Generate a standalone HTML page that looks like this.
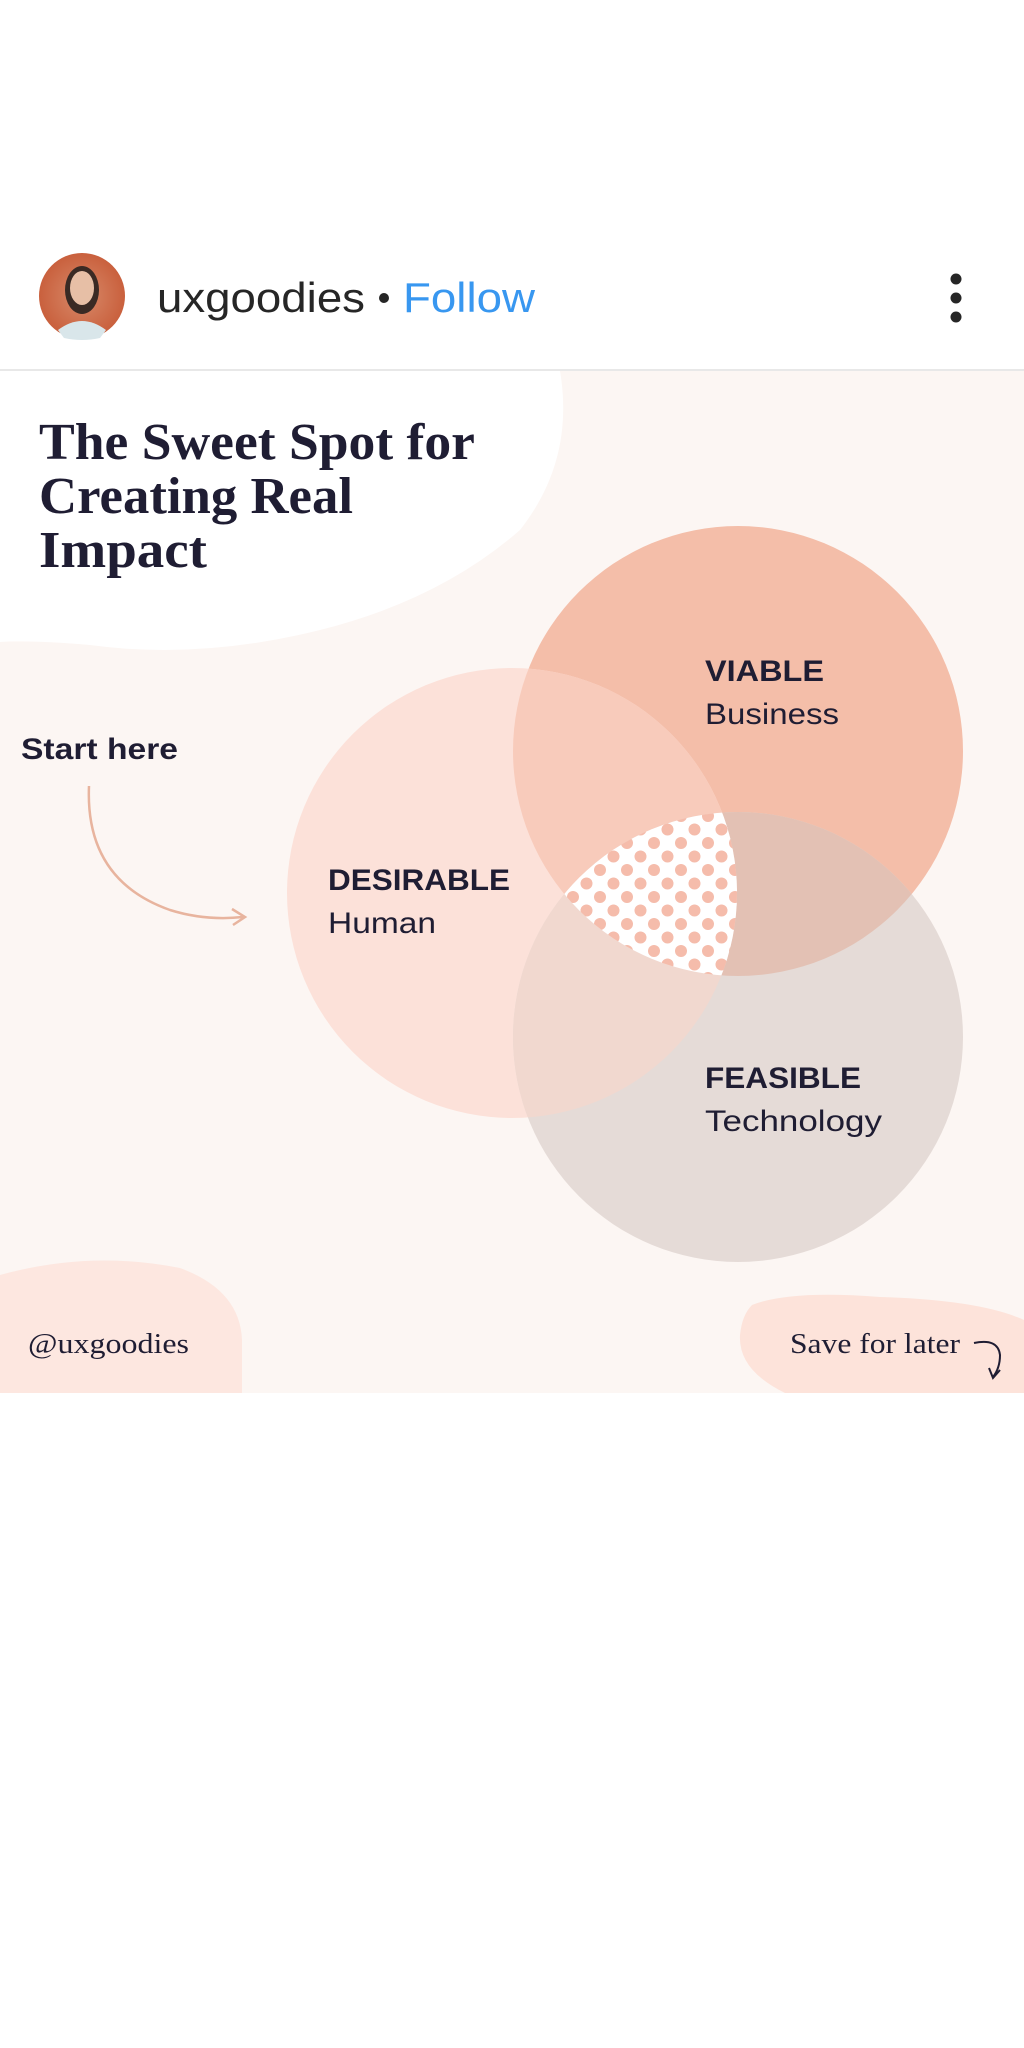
<!DOCTYPE html>
<html><head><meta charset="utf-8"><style>
html,body{margin:0;padding:0;background:#fff;}
body{width:1024px;height:2048px;position:relative;overflow:hidden;font-family:"Liberation Sans",sans-serif;}
</style></head><body>
<svg width="1024" height="2048" viewBox="0 0 1024 2048" xmlns="http://www.w3.org/2000/svg" style="position:absolute;left:0;top:0">
<defs>
<pattern id="dots" x="0" y="0" width="27" height="27" patternUnits="userSpaceOnUse">
<rect width="27" height="27" fill="#fff"/>
<circle cx="6" cy="6" r="6" fill="#f5bcab"/>
<circle cx="19.5" cy="19.5" r="6" fill="#f5bcab"/>
</pattern>
<clipPath id="cV"><circle cx="738" cy="751" r="225"/></clipPath>
<clipPath id="cD"><circle cx="512" cy="893" r="225"/></clipPath>
<clipPath id="cF"><circle cx="738" cy="1037" r="225"/></clipPath>
<clipPath id="cImg"><rect x="0" y="371" width="1024" height="1022"/></clipPath>
<radialGradient id="av" cx="50%" cy="50%" r="50%"><stop offset="0" stop-color="#d88a6a"/><stop offset="1" stop-color="#c9603d"/></radialGradient>
</defs>
<!-- header -->
<circle cx="82" cy="296" r="43" fill="url(#av)"/>
<ellipse cx="82" cy="290" rx="17" ry="24" fill="#3a2a24"/>
<ellipse cx="82" cy="288" rx="12" ry="17" fill="#e7bfa6"/>
<path d="M58 330 Q82 312 106 330 L100 338 Q82 342 64 338Z" fill="#d9e6ea"/>
<text x="157" y="312" font-family="Liberation Sans, sans-serif" font-size="42" fill="#262626" textLength="208" lengthAdjust="spacingAndGlyphs">uxgoodies</text>
<circle cx="384" cy="298" r="5" fill="#262626"/>
<text x="403" y="312" font-family="Liberation Sans, sans-serif" font-size="42" fill="#3897f0" textLength="132" lengthAdjust="spacingAndGlyphs">Follow</text>
<circle cx="956" cy="279" r="5.5" fill="#262626"/>
<circle cx="956" cy="298" r="5.5" fill="#262626"/>
<circle cx="956" cy="317" r="5.5" fill="#262626"/>
<rect x="0" y="369" width="1024" height="2" fill="#e8e8e8"/>
<!-- image -->
<g clip-path="url(#cImg)">
<rect x="0" y="371" width="1024" height="1022" fill="#fcf6f3"/>
<path d="M0 371 L560 371 Q575 460 520 530 Q440 600 320 630 Q200 660 90 645 Q30 640 0 642 Z" fill="#ffffff"/>
<path d="M0 1275 Q90 1250 180 1268 Q240 1290 242 1340 L242 1393 L0 1393Z" fill="#fde7e0"/>
<path d="M752 1305 Q790 1290 880 1297 Q980 1300 1024 1320 L1024 1393 L785 1393 Q738 1370 740 1335 Q742 1315 752 1305Z" fill="#fde3da"/>
<circle cx="738" cy="751" r="225" fill="#f4bea9"/>
<circle cx="512" cy="893" r="225" fill="#fce1d9"/>
<circle cx="738" cy="1037" r="225" fill="#e5dbd7"/>
<g clip-path="url(#cV)"><circle cx="512" cy="893" r="225" fill="#f8cbbb"/><circle cx="738" cy="1037" r="225" fill="#e3c1b4"/></g>
<g clip-path="url(#cD)"><circle cx="738" cy="1037" r="225" fill="#f1d8cf"/></g>
<g clip-path="url(#cV)"><g clip-path="url(#cD)"><circle cx="738" cy="1037" r="225" fill="url(#dots)"/></g></g>
<text font-family="Liberation Serif, serif" font-weight="bold" font-size="52" fill="#1f1d33">
<tspan x="39" y="459" textLength="435" lengthAdjust="spacingAndGlyphs">The Sweet Spot for</tspan>
<tspan x="39" y="513" textLength="314" lengthAdjust="spacingAndGlyphs">Creating Real</tspan>
<tspan x="39" y="567" textLength="168" lengthAdjust="spacingAndGlyphs">Impact</tspan>
</text>
<g font-family="Liberation Sans, sans-serif" fill="#1f1d33">
<text x="21" y="759" font-size="30" font-weight="bold" textLength="157" lengthAdjust="spacingAndGlyphs">Start here</text>
<text x="705" y="681" font-size="30" font-weight="bold" textLength="119" lengthAdjust="spacingAndGlyphs">VIABLE</text>
<text x="705" y="724" font-size="30" textLength="134" lengthAdjust="spacingAndGlyphs">Business</text>
<text x="328" y="890" font-size="30" font-weight="bold" textLength="182" lengthAdjust="spacingAndGlyphs">DESIRABLE</text>
<text x="328" y="933" font-size="30" textLength="108" lengthAdjust="spacingAndGlyphs">Human</text>
<text x="705" y="1088" font-size="30" font-weight="bold" textLength="156" lengthAdjust="spacingAndGlyphs">FEASIBLE</text>
<text x="705" y="1131" font-size="30" textLength="177" lengthAdjust="spacingAndGlyphs">Technology</text>
</g>
<path d="M89 786 Q85 880 170 910 Q205 921 243 917" fill="none" stroke="#e8b49e" stroke-width="2.5"/>
<path d="M232 909 L245 917 L233 925" fill="none" stroke="#e8b49e" stroke-width="2.5"/>
<text x="28" y="1353" font-family="Liberation Serif, serif" font-size="29" fill="#1f1d33" textLength="161" lengthAdjust="spacingAndGlyphs">@uxgoodies</text>
<text x="790" y="1353" font-family="Liberation Serif, serif" font-size="29" fill="#1f1d33" textLength="170" lengthAdjust="spacingAndGlyphs">Save for later</text>
<path d="M974 1343 Q998 1338 1000 1355 Q1000 1368 993 1377" fill="none" stroke="#1f1d33" stroke-width="2"/>
<path d="M989 1368 L993 1378 L1000 1370" fill="none" stroke="#1f1d33" stroke-width="2"/>
</g>
</svg>
</body></html>
